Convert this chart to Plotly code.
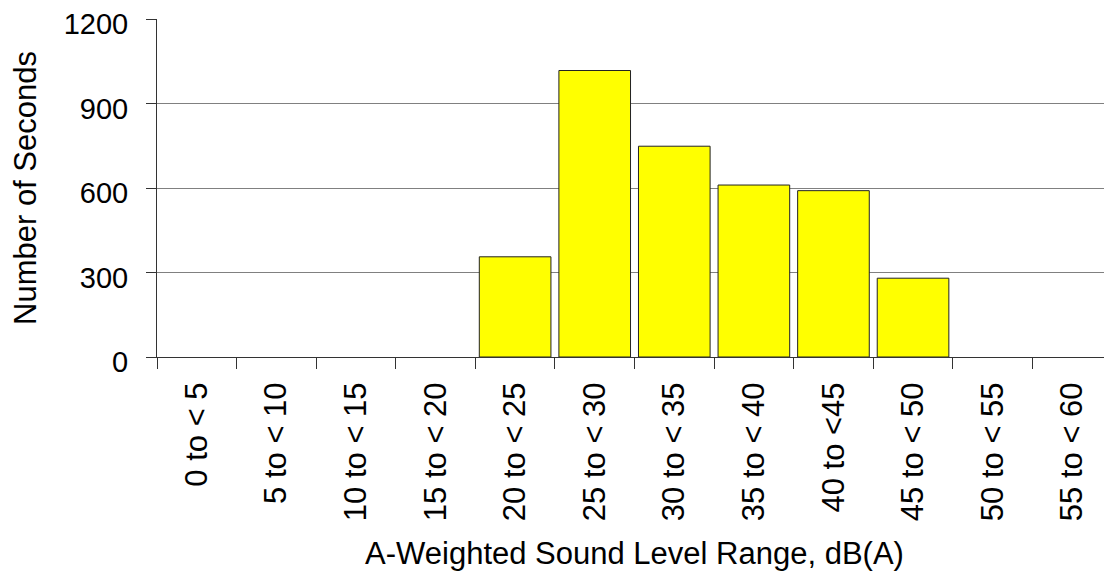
import plotly.graph_objects as go

categories = ["0 to < 5", "5 to < 10", "10 to < 15", "15 to < 20", "20 to < 25",
              "25 to < 30", "30 to < 35", "35 to < 40", "40 to <45", "45 to < 50",
              "50 to < 55", "55 to < 60"]
seconds = [0, 0, 0, 0, 356, 1018, 749, 611, 591, 280, 0, 0]
y_ticks = [0, 300, 600, 900, 1200]

FONT = "Liberation Sans, Arial, sans-serif"

# no outline on empty bins
outline_widths = [1 if v > 0 else 0 for v in seconds]

fig = go.Figure(go.Bar(
    x=categories, y=seconds,
    marker=dict(color="#FFFF00", line=dict(color="#222222", width=outline_widths)),
))

# page body has an 8px margin, so the figure is sized to fill the rest of the window
fig.update_layout(
    width=1104, height=573,
    margin=dict(l=149, r=0, t=11, b=224, autoexpand=False),
    paper_bgcolor="white", plot_bgcolor="white",
    bargap=0.1,
    showlegend=False,
    font=dict(family=FONT, color="black"),
)

fig.update_xaxes(
    type="category",
    automargin=False,
    tickangle=-90,
    tickfont=dict(size=31, family=FONT),
    ticks="outside", tickson="boundaries", ticklen=11, tickcolor="#333333",
    ticklabelstandoff=12,
    showline=True, linecolor="#333333", linewidth=1,
    showgrid=False,
    title=dict(text="A-Weighted Sound Level Range, dB(A)", font=dict(size=31, family=FONT), standoff=22),
)

fig.update_yaxes(
    range=[0, 1201],
    automargin=False,
    tickvals=y_ticks,
    tickfont=dict(size=29, family=FONT),
    ticks="outside", ticklen=10, tickcolor="#333333",
    ticklabelstandoff=12,
    ticklabelshift=5,
    ticklabeloverflow="allow",
    showline=True, linecolor="#333333", linewidth=1,
    showgrid=True, gridcolor="#808080", gridwidth=1,
    zeroline=False,
    title=dict(text="Number of Seconds", font=dict(size=31, family=FONT), standoff=25),
)

fig.write_html("out.html")
